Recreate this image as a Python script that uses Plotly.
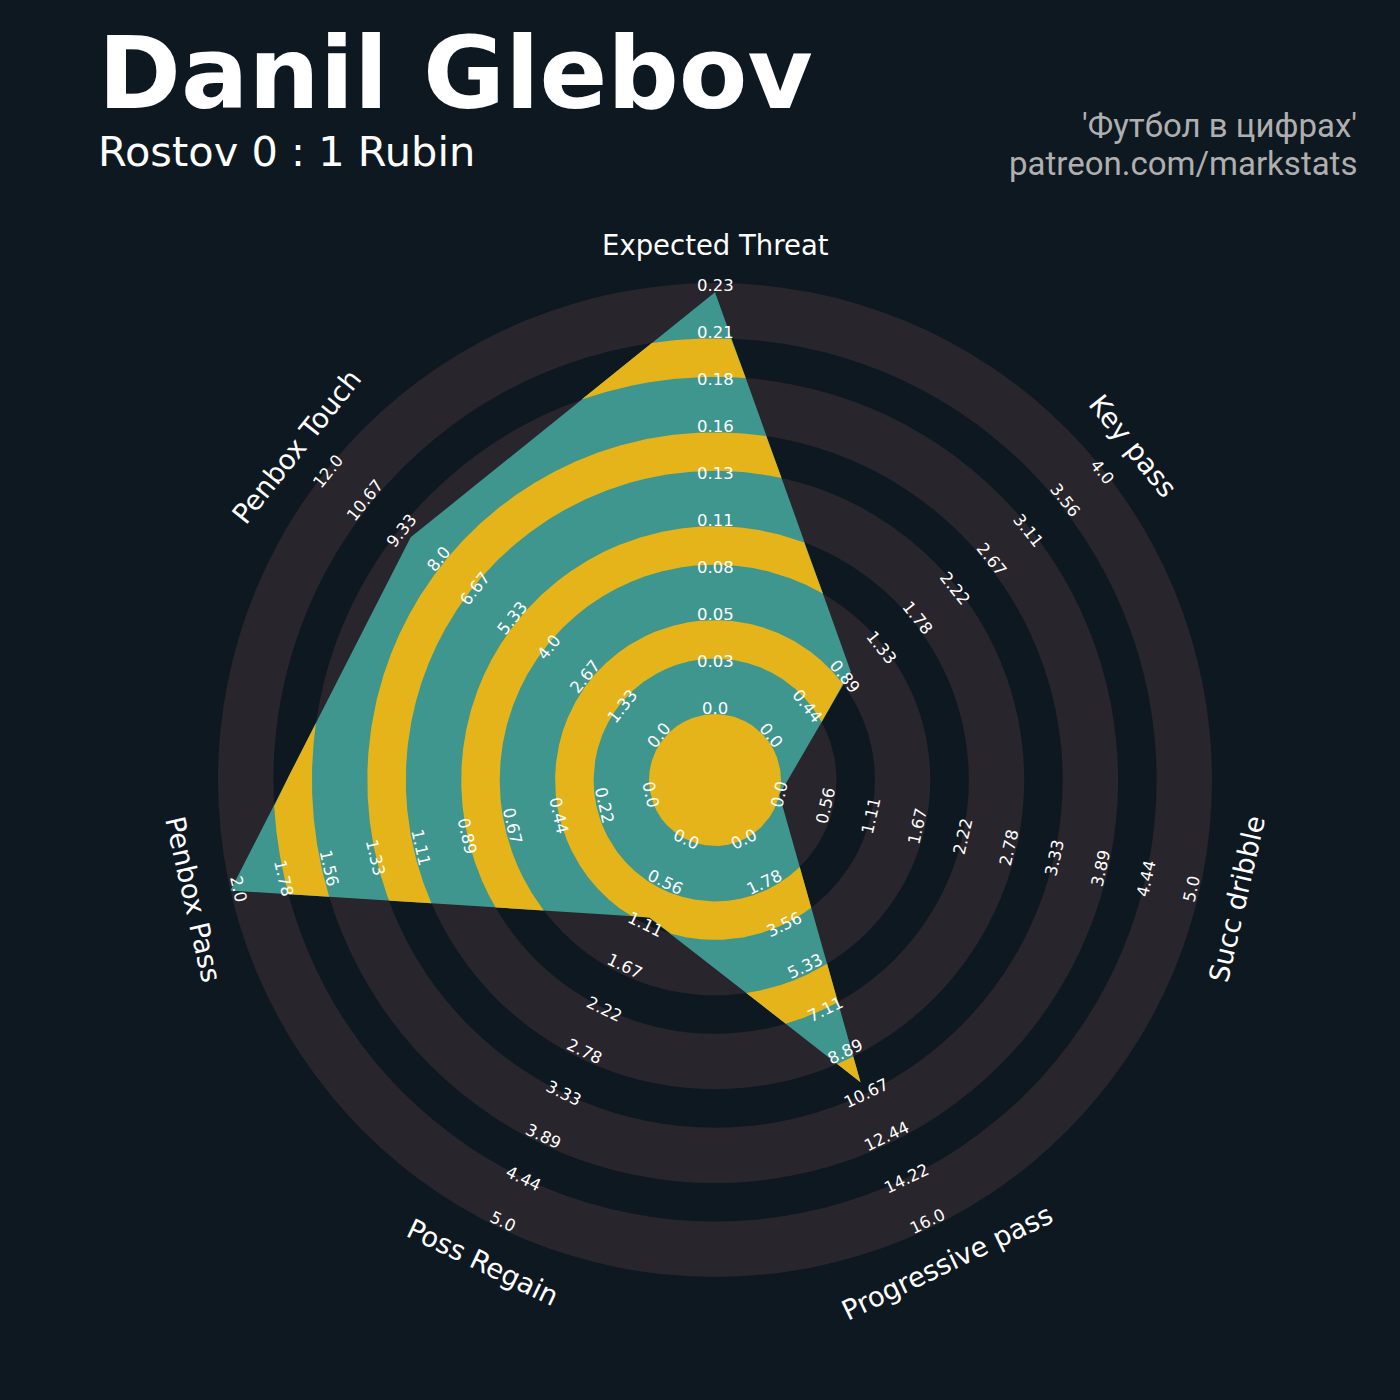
import numpy as np
import plotly.graph_objects as go

# ---------------- data ----------------
params = ["Expected Threat", "Key pass", "Succ dribble", "Progressive pass",
          "Poss Regain", "Penbox Pass", "Penbox Touch"]
values = [0.23, 1, 0, 10, 1, 2, 9]
range_min = [0, 0, 0, 0, 0, 0, 0]
range_max = [0.235, 4, 5, 16, 5, 2, 12]
tick_labels = [
    ["0.0", "0.03", "0.05", "0.08", "0.11", "0.13", "0.16", "0.18", "0.21", "0.23"],
    ["0.0", "0.44", "0.89", "1.33", "1.78", "2.22", "2.67", "3.11", "3.56", "4.0"],
    ["0.0", "0.56", "1.11", "1.67", "2.22", "2.78", "3.33", "3.89", "4.44", "5.0"],
    ["0.0", "1.78", "3.56", "5.33", "7.11", "8.89", "10.67", "12.44", "14.22", "16.0"],
    ["0.0", "0.56", "1.11", "1.67", "2.22", "2.78", "3.33", "3.89", "4.44", "5.0"],
    ["0.0", "0.22", "0.44", "0.67", "0.89", "1.11", "1.33", "1.56", "1.78", "2.0"],
    ["0.0", "1.33", "2.67", "4.0", "5.33", "6.67", "8.0", "9.33", "10.67", "12.0"],
]
title = "Danil Glebov"
subtitle = "Rostov 0 : 1 Rubin"
credit_1 = "'Футбол в цифрах'"
credit_2 = "patreon.com/markstats"

# ---------------- style ----------------
BG = "#0E1821"
RING = "#28252C"
TEAL = "#3E968F"
YELLOW = "#E5B41A"
W = H = 1400
CX, CY = 715, 780          # radar centre, px from top-left
R0 = 66.0                  # centre circle radius
RW = 55.4                  # coloured ring width
GW = 38.5                  # gap width
RMAX = R0 + 5 * RW + 4 * GW
LABEL_R0, LABEL_STEP = 69.0, 47.0
LABEL_UP = 2.5             # shift of range labels along their own "up" direction
PARAM_R = 535.0

n = len(params)
ang = np.deg2rad(90 - np.arange(n) * 360.0 / n)


def to_r(v, lo, hi):
    return R0 + (v - lo) / (hi - lo) * (RMAX - R0)


rad = np.array([to_r(v, lo, hi) for v, lo, hi in zip(values, range_min, range_max)])
px = rad * np.cos(ang)
py = rad * np.sin(ang)

# yellow bands (centre + gaps)
bands = [(0.0, R0)]
r = R0
for k in range(4):
    r += RW
    bands.append((r, r + GW))
    r += GW

# sample angles: dense grid + polygon vertices + exact edge/circle crossings
extra = list(np.mod(ang, 2 * np.pi))
radii_set = sorted({b for band in bands for b in band if b > 0})
for i in range(n):
    P = np.array([px[i], py[i]])
    D = np.array([px[(i + 1) % n], py[(i + 1) % n]]) - P
    a, b = D @ D, 2 * (P @ D)
    for rr in radii_set:
        c = P @ P - rr * rr
        disc = b * b - 4 * a * c
        if disc < 0:
            continue
        for s in ((-b - np.sqrt(disc)) / (2 * a), (-b + np.sqrt(disc)) / (2 * a)):
            if 0 <= s <= 1:
                q = P + s * D
                extra.append(np.mod(np.arctan2(q[1], q[0]), 2 * np.pi))
th = np.unique(np.concatenate([np.linspace(0, 2 * np.pi, 4000, endpoint=False), extra]))
ux, uy = np.cos(th), np.sin(th)

# polygon boundary radius along each ray
Rth = np.full(th.shape, np.inf)
for i in range(n):
    Pxi, Pyi = px[i], py[i]
    Dx, Dy = px[(i + 1) % n] - Pxi, py[(i + 1) % n] - Pyi
    den = ux * Dy - uy * Dx
    with np.errstate(divide="ignore", invalid="ignore"):
        t = (Pxi * Dy - Pyi * Dx) / den
        s = (Pxi * uy - Pyi * ux) / den
    ok = (s >= -1e-9) & (s <= 1 + 1e-9) & (t > 0)
    Rth = np.where(ok & (t < Rth), t, Rth)


def clipped(r1, r2):
    if r1 <= 0:
        ro = np.minimum(Rth, r2)
        return list(np.append(ro * ux, ro[0] * ux[0])), list(np.append(ro * uy, ro[0] * uy[0]))
    mask = Rth >= r1 - 1e-6
    if mask.all():
        ro = np.minimum(Rth, r2)
        x = np.concatenate([ro * ux, [ro[0] * ux[0]], [r1 * ux[0]], (r1 * ux)[::-1]])
        y = np.concatenate([ro * uy, [ro[0] * uy[0]], [r1 * uy[0]], (r1 * uy)[::-1]])
        return list(x), list(y)
    start = int(np.argmin(mask))
    idx = np.roll(np.arange(len(th)), -start)
    m = mask[idx]
    xs, ys = [], []
    j = 0
    while j < len(idx):
        if not m[j]:
            j += 1
            continue
        k = j
        while k < len(idx) and m[k]:
            k += 1
        run = idx[j:k]
        ro = np.clip(Rth[run], r1, r2)
        xs += list(ro * ux[run]) + list((r1 * ux[run])[::-1]) + [None]
        ys += list(ro * uy[run]) + list((r1 * uy[run])[::-1]) + [None]
        j = k
    return xs, ys


fig = go.Figure()

# polygon (teal base)
fig.add_trace(go.Scatter(x=np.append(px, px[0]), y=np.append(py, py[0]), mode="lines",
                         fill="toself", fillcolor=TEAL, line=dict(width=0),
                         hoverinfo="skip"))
for r1, r2 in bands:
    x, y = clipped(r1, r2)
    fig.add_trace(go.Scatter(x=x, y=y, mode="lines", fill="toself", fillcolor=YELLOW,
                             line=dict(width=0), hoverinfo="skip", connectgaps=False))

# background rings (outside polygon)
shapes = []
r = RMAX
for k in range(5):
    shapes.append(dict(type="circle", xref="x", yref="y", x0=-r, x1=r, y0=-r, y1=r,
                       fillcolor=RING, line=dict(width=0), layer="below"))
    r -= RW
    if k < 4:
        shapes.append(dict(type="circle", xref="x", yref="y", x0=-r, x1=r, y0=-r, y1=r,
                           fillcolor=BG, line=dict(width=0), layer="below"))
        r -= GW


def text_angle(a_rad):
    rot = np.rad2deg(a_rad) - 90
    while rot <= -90:
        rot += 180
    while rot > 90:
        rot -= 180
    return -rot


ann = []
for i in range(n):
    ta = text_angle(ang[i])
    up = np.deg2rad(-ta + 90)
    for k, lab in enumerate(tick_labels[i]):
        rr = LABEL_R0 + LABEL_STEP * k
        ann.append(dict(x=rr * np.cos(ang[i]) + LABEL_UP * np.cos(up),
                        y=rr * np.sin(ang[i]) + LABEL_UP * np.sin(up),
                        xref="x", yref="y",
                        text=lab, showarrow=False, textangle=ta,
                        xanchor="center", yanchor="middle",
                        font=dict(family="DejaVu Sans", size=16.5, color="white")))
    ann.append(dict(x=PARAM_R * np.cos(ang[i]), y=PARAM_R * np.sin(ang[i]), xref="x", yref="y",
                    text=params[i], showarrow=False, textangle=ta,
                    xanchor="center", yanchor="middle",
                    font=dict(family="DejaVu Sans", size=27.5, color="white")))


def py_(ypx):
    return 1 - ypx / H


ann.append(dict(x=96 / W, y=py_(73), xref="paper", yref="paper", text=f"<b>{title}</b>",
                showarrow=False, xanchor="left", yanchor="middle",
                font=dict(family="DejaVu Sans", size=100, color="white")))
ann.append(dict(x=96 / W, y=py_(151), xref="paper", yref="paper", text=subtitle,
                showarrow=False, xanchor="left", yanchor="middle",
                font=dict(family="DejaVu Sans", size=41.5, color="white")))
ann.append(dict(x=1359 / W, y=py_(125), xref="paper", yref="paper", text=credit_1,
                showarrow=False, xanchor="right", yanchor="middle",
                font=dict(family="Roboto", size=33, color="#AFAFAF")))
ann.append(dict(x=1359 / W, y=py_(163), xref="paper", yref="paper", text=credit_2,
                showarrow=False, xanchor="right", yanchor="middle",
                font=dict(family="Roboto", size=33, color="#AFAFAF")))

fig.update_layout(
    width=W, height=H, autosize=False,
    margin=dict(l=0, r=0, t=0, b=0),
    paper_bgcolor=BG, plot_bgcolor=BG,
    showlegend=False, hovermode=False,
    xaxis=dict(range=[-CX, W - CX], visible=False, fixedrange=True),
    yaxis=dict(range=[-(H - CY), CY], visible=False, fixedrange=True),
    shapes=shapes, annotations=ann,
)
fig.write_html(
    "out.html",
    config={"displayModeBar": False},
    post_script="document.body.style.margin='0';document.body.style.background='%s';" % BG,
)
